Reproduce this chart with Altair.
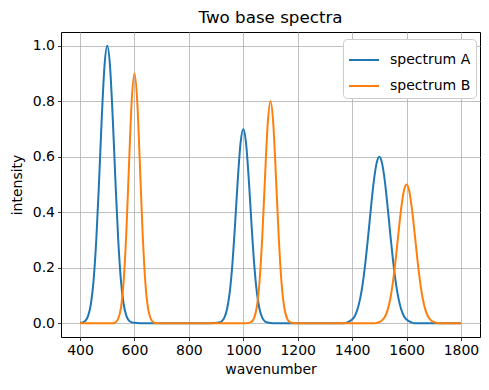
import altair as alt
import pandas as pd

# spectrum A points (wavenumber, intensity)
a_x = [400, 410, 420, 430, 440, 450, 460, 470, 480, 490, 500, 510, 520, 530, 540, 550, 560, 570, 580, 590, 600, 620,
       880, 910, 920, 930, 940, 950, 960, 970, 980, 990, 1000, 1010, 1020, 1030, 1040, 1050, 1060, 1070, 1080, 1090, 1110,
       1360, 1370, 1380, 1390, 1400, 1410, 1420, 1430, 1440, 1450, 1460, 1470, 1480, 1490, 1500,
       1510, 1520, 1530, 1540, 1550, 1560, 1570, 1580, 1590, 1600, 1610, 1620, 1630, 1800]
a_y = [0.001, 0.003, 0.009, 0.027, 0.070, 0.157, 0.306, 0.514, 0.744, 0.929, 1.0, 0.929, 0.744, 0.514, 0.306, 0.157, 0.070, 0.027, 0.009, 0.003, 0.001, 0.0,
       0.0, 0.002, 0.006, 0.019, 0.049, 0.110, 0.214, 0.360, 0.521, 0.650, 0.700, 0.650, 0.521, 0.360, 0.214, 0.110, 0.049, 0.019, 0.006, 0.002, 0.0,
       0.0, 0.0, 0.002, 0.006, 0.013, 0.026, 0.051, 0.091, 0.150, 0.229, 0.324, 0.424, 0.514, 0.577, 0.600,
       0.577, 0.514, 0.424, 0.324, 0.229, 0.150, 0.091, 0.051, 0.026, 0.013, 0.006, 0.002, 0.0, 0.0]

# spectrum B points
b_x = [400, 520, 530, 540, 550, 560, 570, 580, 590, 600, 610, 620, 630, 640, 650, 660, 670, 680,
       1010, 1020, 1030, 1040, 1050, 1060, 1070, 1080, 1090, 1100, 1110, 1120, 1130, 1140, 1150, 1160, 1170, 1180, 1190,
       1480, 1490, 1500, 1510, 1520, 1530, 1540, 1550, 1560, 1570, 1580, 1590, 1600,
       1610, 1620, 1630, 1640, 1650, 1660, 1670, 1680, 1690, 1700, 1710, 1720, 1800]
b_y = [0.0, 0.0, 0.003, 0.015, 0.053, 0.147, 0.324, 0.572, 0.804, 0.900, 0.804, 0.572, 0.324, 0.147, 0.053, 0.015, 0.003, 0.0,
       0.0, 0.001, 0.005, 0.019, 0.060, 0.153, 0.316, 0.529, 0.722, 0.800, 0.722, 0.529, 0.316, 0.153, 0.060, 0.019, 0.005, 0.001, 0.0,
       0.0, 0.001, 0.004, 0.010, 0.022, 0.046, 0.086, 0.148, 0.229, 0.322, 0.411, 0.476, 0.500,
       0.476, 0.411, 0.322, 0.229, 0.148, 0.086, 0.046, 0.022, 0.010, 0.004, 0.001, 0.0, 0.0]

series_names = ["spectrum A", "spectrum B"]
series_colors = ["#1f77b4", "#ff7f0e"]
x_ticks = [400, 600, 800, 1000, 1200, 1400, 1600, 1800]
y_ticks = [0.0, 0.2, 0.4, 0.6, 0.8, 1.0]

df = pd.concat([
    pd.DataFrame({"wavenumber": a_x, "intensity": a_y, "series": series_names[0], "o": range(len(a_x))}),
    pd.DataFrame({"wavenumber": b_x, "intensity": b_y, "series": series_names[1], "o": range(len(b_x))}),
])

font = "DejaVu Sans"

chart = alt.Chart(df).mark_line(strokeWidth=2, interpolate="monotone", clip=True).encode(
    x=alt.X("wavenumber:Q", title="wavenumber",
            scale=alt.Scale(domain=[330, 1870], nice=False, zero=False),
            axis=alt.Axis(values=x_ticks, format="d")),
    y=alt.Y("intensity:Q", title="intensity",
            scale=alt.Scale(domain=[-0.05, 1.05], nice=False, zero=False),
            axis=alt.Axis(values=y_ticks, format=".1f")),
    color=alt.Color("series:N", title=None,
                    scale=alt.Scale(domain=series_names, range=series_colors),
                    legend=alt.Legend(orient="none", legendX=282, legendY=7,
                                      symbolType="stroke", symbolSize=900, symbolStrokeWidth=2,
                                      labelFontSize=14, labelFont=font, labelColor="black",
                                      fillColor="white", strokeColor="#cccccc", cornerRadius=4,
                                      padding=5, rowPadding=3, labelOffset=10)),
    order="o:Q",
).properties(
    width=419, height=305,
    title=alt.TitleParams("Two base spectra", fontSize=16.7, font=font, fontWeight="normal",
                          color="black", offset=5),
    autosize=alt.AutoSizeParams(type="none"),
    padding={"left": 53, "top": 24, "right": 1, "bottom": 45},
).configure_view(
    stroke="black", strokeWidth=1
).configure_axis(
    grid=True, gridColor="#b0b0b0", gridWidth=0.8,
    domain=False, tickColor="black", tickSize=3.5, tickWidth=0.8,
    labelFont=font, labelFontSize=14, labelColor="black", labelPadding=3,
    titleFont=font, titleFontSize=14, titleColor="black", titleFontWeight="normal",
).configure_axisX(titlePadding=5).configure_axisY(titlePadding=8)

chart.save("out.html", embed_options={"renderer": "svg", "actions": False})
